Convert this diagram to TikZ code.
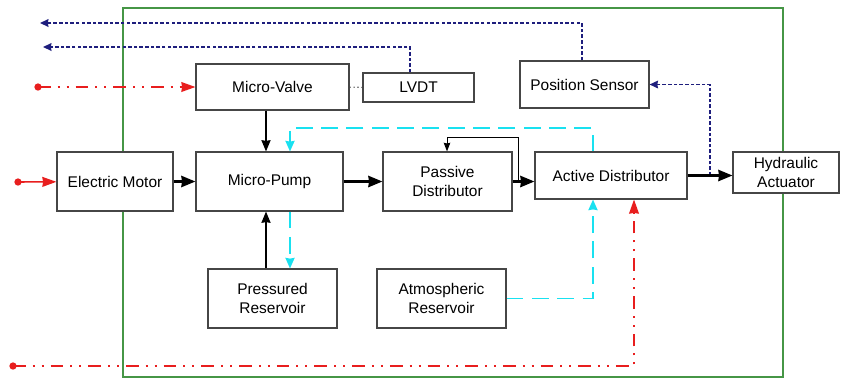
\documentclass[tikz,border=0pt]{standalone}
\usepackage{fontspec}
\setmainfont{Liberation Sans}
\usetikzlibrary{arrows.meta}

\definecolor{boxgray}{RGB}{70,70,70}
\definecolor{sigred}{RGB}{232,30,30}
\definecolor{fluid}{RGB}{25,225,240}
\definecolor{sensnavy}{RGB}{30,30,125}
\definecolor{framegreen}{RGB}{70,150,70}

\begin{document}
\begin{tikzpicture}[x=0.025cm, y=-0.025cm, >={Stealth[inset=0.5pt]},
  blk/.style={draw=boxgray, line width=0.8pt, fill=white, align=center,
    font=\fontsize{11}{13}\selectfont, inner sep=0pt},
  flow/.style={-{Stealth[length=10pt, width=8pt, inset=0.5pt]}, line width=1.6pt},
  mech/.style={-{Stealth[length=8pt, width=6.5pt, inset=0.5pt]}, line width=0.9pt},
  fluidline/.style={-{Stealth[length=7.5pt, width=6.5pt, inset=0.5pt]}, fluid, line width=1.1pt,
    dash pattern=on 12pt off 6pt},
  ctrl/.style={-{Stealth[length=10pt, width=7pt, inset=0.5pt]}, sigred, line width=1pt,
    dash pattern=on 9pt off 5pt on 1.4pt off 5pt on 1.4pt off 5pt},
  sens/.style={-{Stealth[length=6pt, width=5.5pt, inset=0.5pt]}, sensnavy, line width=1pt,
    dash pattern=on 2.5pt off 1.5pt}]
  \useasboundingbox (0,0) rectangle (841,378);
  % frame
  \draw[framegreen, line width=0.8pt] (123,8) rectangle (783,377);

  % blocks
  \node[blk, minimum width=2.9cm, minimum height=1.475cm] (motor) at (115,181.5) {Electric Motor};
  \node[blk, minimum width=3.675cm, minimum height=1.475cm] (pump) at (269.5,181.5) {Micro-Pump};
  \node[blk, minimum width=3.825cm, minimum height=1.15cm] (valve) at (272.5,87) {Micro-Valve};
  \node[blk, minimum width=2.775cm, minimum height=0.725cm] (lvdt) at (418.5,87.5) {LVDT};
  \node[blk, minimum width=3.225cm, minimum height=1.175cm] (possens) at (584.5,84.5) {Position Sensor};
  \node[blk, minimum width=3.225cm, minimum height=1.475cm] (passive) at (447.5,181.5) {Passive\\Distributor};
  \node[blk, minimum width=3.8cm, minimum height=1.175cm] (active) at (611,175.5) {Active Distributor};
  \node[blk, minimum width=2.65cm, minimum height=1.025cm] (actuator) at (786,172.5) {Hydraulic\\Actuator};
  \node[blk, minimum width=3.225cm, minimum height=1.475cm] (pres) at (272.5,298.5) {Pressured\\Reservoir};
  \node[blk, minimum width=3.225cm, minimum height=1.475cm] (atm) at (441.5,298.5) {Atmospheric\\Reservoir};

  % free ends
  \coordinate (motorin) at (18,182);
  \coordinate (valvein) at (38,87);
  \coordinate (actin) at (13,366);
  \coordinate (lvdtout) at (43,47);
  \coordinate (possout) at (40,23);

  % sensor feedback
  \draw[sens] (710,0 |- active) |- (possens.east);
  \draw[sens] (410,0 |- lvdt.north) |- (lvdtout);
  \draw[sens] (582,0 |- possens.north) |- (possout);
  \draw[boxgray, line width=0.8pt, dotted] (valve) -- (lvdt);

  % power flow
  \draw[flow] (motor) -- (pump);
  \draw[flow] (pump) -- (passive);
  \draw[flow] (passive) -- (active.west |- passive);
  \draw[flow] (active) -- (actuator.west |- active);
  \draw[->, line width=0.7pt] (518,0 |- passive) |- (447,137) -- (447,0 |- passive.north);
  \draw[mech] (266,0 |- valve.south) -- (266,0 |- pump.north);
  \draw[mech] (266,0 |- pres.north) -- (266,0 |- pump.south);

  % fluid
  \draw[fluidline] (593,0 |- active.north) |- (290,128) -- (290,0 |- pump.north);
  \draw[fluidline] (290,0 |- pump.south) -- (290,0 |- pres.north);
  \draw[fluidline] (atm.east) -| (593,0 |- active.south);

  % control signals
  \draw[-{Stealth[length=10pt, width=7pt, inset=0.5pt]}, sigred, line width=1.1pt] (motorin) -- (motor);
  \draw[ctrl] (valvein) -- (valve.west |- valvein);
  \draw[ctrl] (actin) -| (634,0 |- active.south);
  \fill[sigred] (motorin) circle (2.6pt);
  \fill[sigred] (valvein) circle (2.6pt);
  \fill[sigred] (actin) circle (2.6pt);
\end{tikzpicture}
\end{document}
